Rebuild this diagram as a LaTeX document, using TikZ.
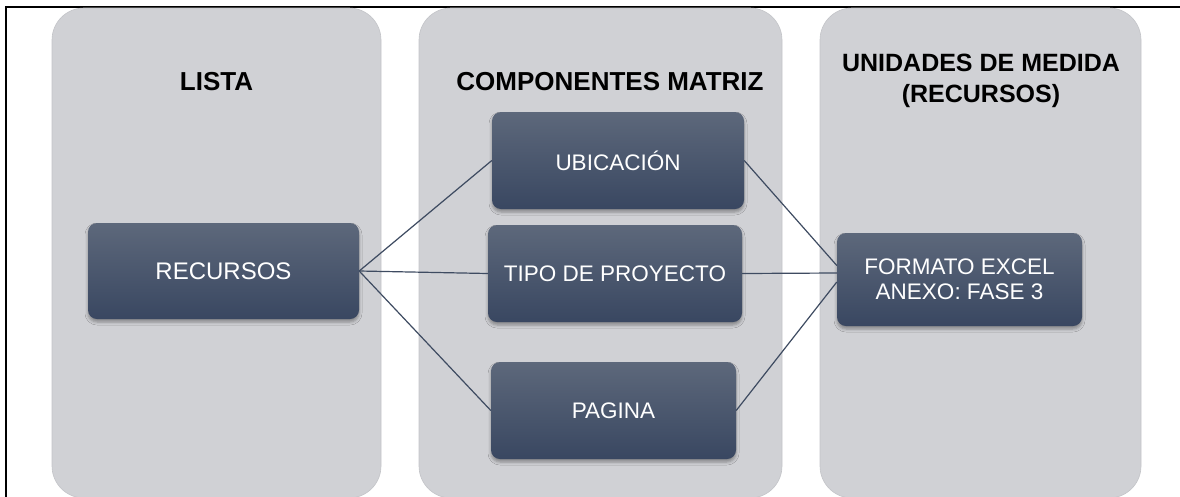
\documentclass[tikz,border=0pt]{standalone}
\usepackage{fontspec}
\setmainfont{Liberation Sans}
\usetikzlibrary{calc,shadows.blur}
\definecolor{panelgray}{HTML}{D0D1D5}
\definecolor{paneledge}{HTML}{C3C4C8}
\definecolor{boxtop}{HTML}{5D687B}
\definecolor{boxbot}{HTML}{394761}
\definecolor{linkcol}{HTML}{3E4B61}
\tikzset{
  panel/.style={fill=panelgray, draw=paneledge, line width=0.6pt, rounded corners=32pt},
  title/.style={font=\bfseries\fontsize{26}{31}\selectfont, text=black, align=center, inner sep=0pt},
  darkbox/.style={rounded corners=9pt, top color=boxtop, bottom color=boxbot, draw=none,
    text=white, align=center, inner sep=0pt,
    font=\fontsize{22.5}{25}\selectfont,
    blur shadow={shadow xshift=0pt, shadow yshift=-3pt, shadow blur radius=3pt, shadow opacity=35}},
  link/.style={draw=linkcol, line width=1.2pt}
}
\begin{document}
\begin{tikzpicture}[x=1pt,y=-1pt]
\useasboundingbox (0,0) rectangle (1180,496);
% frame
\draw[line width=2pt, black] (6,510) -- (6,7) -- (1190,7);
% panels
\path[panel] (52,8) rectangle (381,498);
\path[panel] (419,8) rectangle (782,498);
\path[panel] (820,8) rectangle (1141,498);
% titles
\node[title] (t1) at (216.5,82) {LISTA};
\node[title] (t2) at (610,82) {COMPONENTES MATRIZ};
\node[title, font=\bfseries\fontsize{25}{31}\selectfont] (t3) at (981,81) {UNIDADES DE MEDIDA\\(RECURSOS)};
% boxes
\node[darkbox, minimum width=271pt, minimum height=96pt, font=\fontsize{24}{26}\selectfont] (rec) at (223.5,271) {RECURSOS};
\node[darkbox, minimum width=252pt, minimum height=97pt] (ubi) at (618,160.5) {UBICACIÓN};
\node[darkbox, minimum width=254pt, minimum height=97pt] (tipo) at (615,273.5) {TIPO DE PROYECTO};
\node[darkbox, minimum width=245pt, minimum height=97pt] (pag) at (613.5,410.5) {PAGINA};
\node[darkbox, minimum width=245pt, minimum height=93pt] (fmt) at (959.5,279.5) {FORMATO EXCEL\\ANEXO: FASE 3};
% connectors
\draw[link] (rec.east) -- (ubi.west);
\draw[link] (rec.east) -- (tipo.west);
\draw[link] (rec.east) -- (pag.west);
\draw[link] (ubi.east) -- ($(fmt.west)+(0,-14)$);
\draw[link] (tipo.east) -- ($(fmt.west)+(0,-6.5)$);
\draw[link] (pag.east) -- ($(fmt.west)+(0,2.5)$);
\end{tikzpicture}
\end{document}
